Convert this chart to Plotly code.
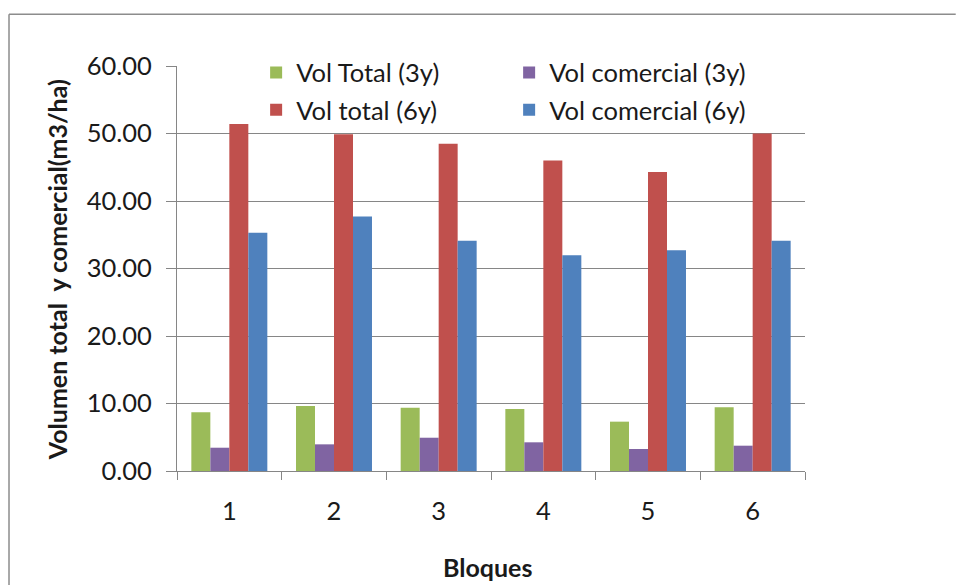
import plotly.graph_objects as go

categories = ["1", "2", "3", "4", "5", "6"]
vol_total_3y = [8.70, 9.63, 9.38, 9.19, 7.31, 9.43]
vol_comercial_3y = [3.45, 3.95, 4.93, 4.25, 3.26, 3.75]
vol_total_6y = [51.4, 49.9, 48.5, 46.0, 44.3, 50.0]
vol_comercial_6y = [35.3, 37.7, 34.1, 31.95, 32.7, 34.1]
y_ticks = [0, 10, 20, 30, 40, 50, 60]
y_tick_labels = ["0.00", "10.00", "20.00", "30.00", "40.00", "50.00", "60.00"]

FONT = "Lato"
TXT = "#1a1a1a"
fig = go.Figure()
fig.add_bar(x=categories, y=vol_total_3y, name="Vol Total (3y)", marker_color="#9BBB59", legend="legend")
fig.add_bar(x=categories, y=vol_comercial_3y, name="Vol comercial (3y)", marker_color="#8064A2", legend="legend")
fig.add_bar(x=categories, y=vol_total_6y, name="Vol total (6y)", marker_color="#C0504D", legend="legend2")
fig.add_bar(x=categories, y=vol_comercial_6y, name="Vol comercial (6y)", marker_color="#4F81BD", legend="legend2")
for tr in fig.data:
    tr.marker.line.width = 0

leg_common = dict(orientation="h", xanchor="left", yanchor="middle", bgcolor="rgba(0,0,0,0)",
                  font=dict(family=FONT, size=25.5, color=TXT), entrywidth=208,
                  entrywidthmode="pixels", itemwidth=30, traceorder="normal")

border = dict(color="#8c8c8c", width=1.5)

fig.update_layout(
    width=957, height=585,
    margin=dict(l=177, r=152, t=66, b=114),
    paper_bgcolor="white", plot_bgcolor="white",
    barmode="group", bargap=0.274, bargroupgap=0,
    showlegend=True,
    legend=dict(x=0.126, y=0.983, **leg_common),
    legend2=dict(x=0.126, y=0.891, **leg_common),
    font=dict(family=FONT, color=TXT),
    xaxis=dict(type="category", tickson="boundaries", ticks="outside", ticklen=8,
               tickcolor="#868686", showline=True, linecolor="#868686", linewidth=1,
               showgrid=False, tickfont=dict(family=FONT, size=25.5, color=TXT),
               ticklabelstandoff=17),
    yaxis=dict(range=[0, 60], tickvals=y_ticks, ticktext=y_tick_labels, ticks="outside",
               ticklen=10, tickcolor="#868686", showline=True, linecolor="#868686", linewidth=1,
               showgrid=True, gridcolor="#868686", gridwidth=1, zeroline=False,
               tickfont=dict(family=FONT, size=25.5, color=TXT), ticklabelstandoff=9),
    shapes=[
        dict(type="line", xref="paper", yref="paper", x0=-0.2675, x1=-0.2675, y0=-0.32, y1=1.128,
             line=border, layer="above"),
        dict(type="line", xref="paper", yref="paper", x0=-0.2675, x1=1.24, y0=1.128, y1=1.128,
             line=border, layer="above"),
    ],
    annotations=[
        dict(text="<b>Volumen total  y comercial(m3/ha)</b>", xref="paper", yref="paper",
             x=-0.191, y=0.496, xanchor="center", yanchor="middle", textangle=-90,
             showarrow=False, font=dict(family=FONT, size=25, color=TXT)),
        dict(text="<b>Bloques</b>", xref="paper", yref="paper", x=0.495, y=-0.236,
             xanchor="center", yanchor="middle", showarrow=False,
             font=dict(family=FONT, size=25, color=TXT)),
    ],
)

fig.write_html(
    "out.html",
    post_script="document.documentElement.style.overflow='hidden';"
                "document.body.style.margin='0';document.body.style.overflow='hidden';",
)
